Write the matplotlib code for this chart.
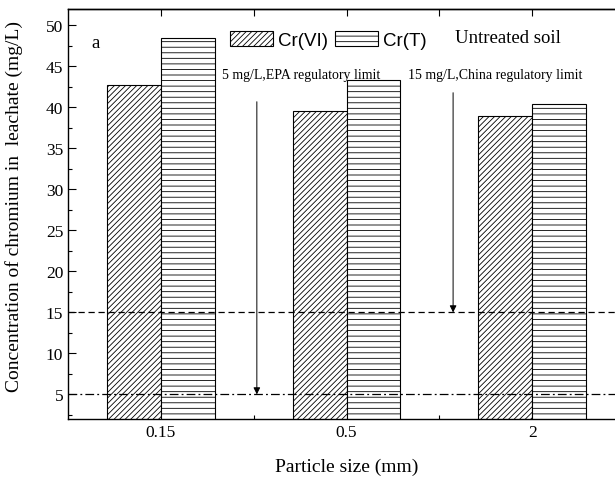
import numpy as np
import matplotlib
matplotlib.use('Agg')
import matplotlib.pyplot as plt
from matplotlib.patches import Patch
from matplotlib.ticker import MultipleLocator, FixedLocator

# data
sizes = ['0.15', '0.5', '2']
cr_vi = [42.8, 39.6, 38.9]
cr_t = [48.5, 43.3, 40.4]
epa_limit = 5
china_limit = 15

plt.rcParams['font.family'] = 'Liberation Serif'
plt.rcParams['hatch.linewidth'] = 0.6
plt.rcParams['axes.linewidth'] = 1.0

fig = plt.figure(figsize=(6.15, 4.81), dpi=100)
ax = fig.add_axes([0.1106, 0.1268, 0.9057, 0.8522])

x = np.arange(len(sizes))
w = 0.29
ax.bar(x - w / 2, cr_vi, w, facecolor='white', edgecolor='black', hatch='//////', lw=0.8)
ax.bar(x + w / 2, cr_t, w, facecolor='white', edgecolor='black', hatch='---', lw=0.8)

# regulatory limits
ax.axhline(china_limit, color='black', lw=0.9, ls=(0, (5, 3)))
ax.axhline(epa_limit, color='black', lw=0.9, ls=(0, (7, 2.5, 1.5, 2.5)))

arrow = dict(arrowstyle='-|>', color='black', lw=0.7, mutation_scale=10,
             shrinkA=0, shrinkB=0)
ax.annotate('', xy=(0.517, epa_limit), xytext=(0.517, 40.7), arrowprops=arrow)
ax.annotate('', xy=(1.574, china_limit), xytext=(1.574, 41.8), arrowprops=arrow)
ax.text(0.329, 44.0, '5 mg/L,EPA regulatory limit', fontsize=10, va='center')
ax.text(1.332, 44.0, '15 mg/L,China regulatory limit', fontsize=10, va='center')
ax.text(-0.372, 47.9, 'a', fontsize=13.5, va='center')
ax.text(1.585, 48.5, 'Untreated soil', fontsize=13.5, va='center')

handles = [Patch(facecolor='white', edgecolor='black', hatch='//////', lw=0.8, label='Cr(VI)'),
           Patch(facecolor='white', edgecolor='black', hatch='---', lw=0.8, label='Cr(T)')]
ax.legend(handles=handles, ncol=2, frameon=False, loc='center left',
          bbox_to_anchor=(0.291, 0.925), borderpad=0, borderaxespad=0,
          handlelength=2.3, handleheight=0.85, handletextpad=0.27,
          columnspacing=0.37, prop={'family': 'Liberation Sans', 'size': 13.5})

ax.set_xlim(-0.5, 2.5)
ax.set_ylim(2, 52)
ax.set_xticks(x)
ax.set_xticklabels(sizes)
ax.xaxis.set_minor_locator(FixedLocator([0.5, 1.5]))
ax.yaxis.set_major_locator(MultipleLocator(5))
ax.yaxis.set_minor_locator(MultipleLocator(2.5))
ax.set_yticks(np.arange(5, 51, 5))
ax.tick_params(which='both', direction='in', labelsize=12.5, width=0.8)
ax.tick_params(which='major', length=6, bottom=False)
ax.tick_params(which='minor', length=3)
ax.spines['right'].set_visible(False)

top = ax.secondary_xaxis('top')
top.set_xticks([0, 0.5, 1, 1.5, 2])
top.tick_params(direction='in', length=5, width=0.8, labeltop=False)

ax.set_xlabel('Particle size (mm)', fontsize=14)
ax.set_ylabel('Concentration of chromium in  leachate (mg/L)', fontsize=14)
ax.xaxis.set_label_coords(0.5, -0.095)
ax.yaxis.set_label_coords(-0.080, 0.52)

fig.savefig('out.png', dpi=100)
